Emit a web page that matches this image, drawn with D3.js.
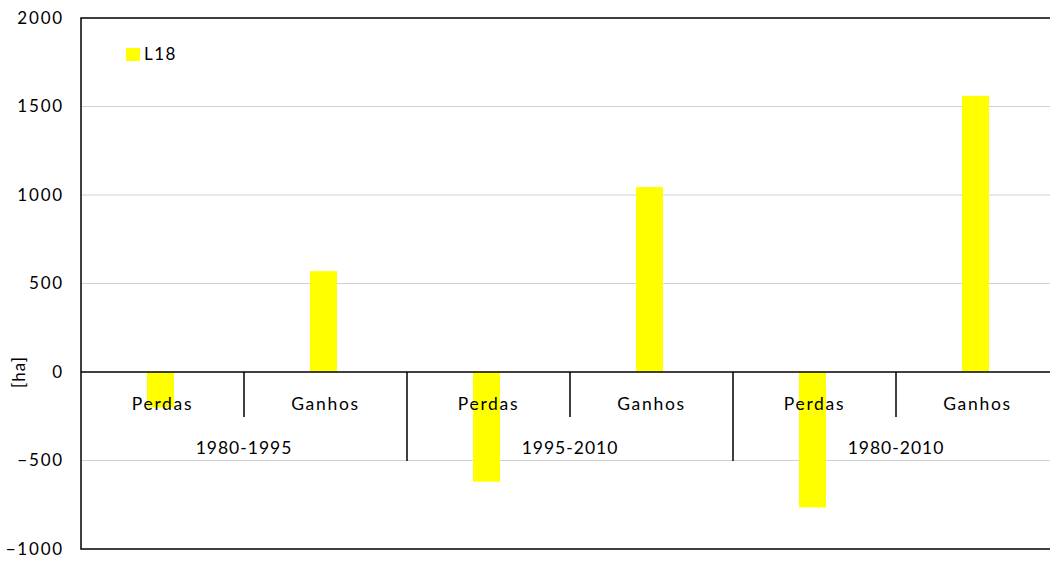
<!DOCTYPE html>
<html><head><meta charset="utf-8">
<script src="https://cdn.jsdelivr.net/npm/d3@7"></script>
<style>body{margin:0;background:#fff;} svg{display:block;font-family:Lato,"Open Sans",sans-serif;}</style>
</head><body>
<script>
const categories = ["Perdas","Ganhos","Perdas","Ganhos","Perdas","Ganhos"];
const periods = ["1980-1995","1995-2010","1980-2010"];
const seriesName = "L18";
const values = [-200, 570, -620, 1045, -765, 1560];
const yTicks = [-1000,-500,0,500,1000,1500,2000];

const W=1050,H=561;
const m={left:81,top:18,right:1059,bottom:549};
const svg=d3.select("body").append("svg").attr("width",W).attr("height",H);
const x=d3.scaleBand().domain(d3.range(categories.length)).range([m.left,m.right]).padding(0);
const y=d3.scaleLinear().domain([-1000,2000]).range([m.bottom,m.top]);

// gridlines
svg.append("g").selectAll("line").data(yTicks.filter(t=>t!==0&&t!==-1000&&t!==2000)).join("line")
 .attr("x1",m.left).attr("x2",m.right).attr("y1",d=>y(d)).attr("y2",d=>y(d))
 .attr("stroke","#d0d0d0").attr("stroke-width",1);

// bars
const bw=27;
svg.append("g").selectAll("rect").data(values).join("rect")
 .attr("x",(d,i)=>x(i)+x.bandwidth()/2-2-bw/2).attr("width",bw)
 .attr("y",d=>y(Math.max(0,d))).attr("height",d=>Math.abs(y(d)-y(0)))
 .attr("fill","#ffff00");

// y axis labels
const yAxis=d3.axisLeft(y).tickValues(yTicks).tickFormat(d3.format("d")).tickSize(0).tickPadding(17);
const ga=svg.append("g").attr("transform",`translate(${m.left},0)`).call(yAxis);
ga.select(".domain").remove();
ga.selectAll("text").attr("font-size",17).attr("letter-spacing",1.8).attr("fill","#000").attr("font-family","Lato,'Open Sans',sans-serif");

// plot border
svg.append("rect").attr("x",m.left).attr("y",m.top).attr("width",m.right-m.left).attr("height",m.bottom-m.top)
 .attr("fill","none").attr("stroke","#000").attr("stroke-width",1.5);

// zero line
svg.append("line").attr("x1",m.left).attr("x2",m.right).attr("y1",y(0)).attr("y2",y(0)).attr("stroke","#000").attr("stroke-width",1.5);

// category dividers
const y0=y(0);
svg.append("g").selectAll("line").data(d3.range(1,categories.length)).join("line")
 .attr("x1",i=>x(i)).attr("x2",i=>x(i)).attr("y1",y0).attr("y2",i=>i%2===0?y0+89:y0+45)
 .attr("stroke","#000").attr("stroke-width",1.5);

// category labels
svg.append("g").selectAll("text").data(categories).join("text")
 .attr("x",(d,i)=>x(i)+x.bandwidth()/2).attr("y",y0+38).attr("text-anchor","middle")
 .attr("font-size",17.5).attr("letter-spacing",1.7).text(d=>d);

// period labels
svg.append("g").selectAll("text").data(periods).join("text")
 .attr("x",(d,i)=>x(i*2+1)).attr("y",y0+82).attr("text-anchor","middle")
 .attr("font-size",17.5).attr("letter-spacing",1).text(d=>d);

// y title
svg.append("text").attr("transform",`translate(25,${y0}) rotate(-90)`).attr("text-anchor","middle")
 .attr("font-size",17).attr("letter-spacing",1).text("[ha]");

// legend
svg.append("rect").attr("x",126).attr("y",48).attr("width",14).attr("height",13).attr("fill","#ffff00");
svg.append("text").attr("x",144).attr("y",60).attr("font-size",17).attr("letter-spacing",1.5).text(seriesName);
</script>
</body></html>
